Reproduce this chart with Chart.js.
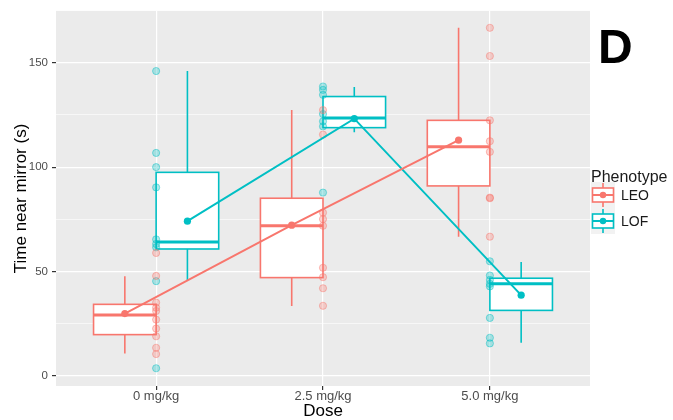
<!DOCTYPE html>
<html>
<head>
<meta charset="utf-8">
<script src="https://cdn.jsdelivr.net/npm/chart.js@4/dist/chart.umd.min.js"></script>
<style>
  html, body { margin: 0; padding: 0; background: #fff; }
  #wrap { width: 673px; height: 420px; position: relative; }
</style>
</head>
<body>
<div id="wrap"><canvas id="c" width="673" height="420"></canvas></div>
<script>
// Dose groups along the x axis
const doses = ['0 mg/kg', '2.5 mg/kg', '5.0 mg/kg'];
const phenotypes = ['LEO', 'LOF'];
const yTicks = [0, 50, 100, 150];

// Box summaries per dose: [lower whisker, Q1, median, Q3, upper whisker]
const leoBox = [
  [10.8, 19.8, 29.2, 34.3, 47.8],
  [33.5, 47.1, 71.9, 85.1, 127.3],
  [66.7, 91.0, 109.8, 122.4, 166.7]
];
const lofBox = [
  [46.0, 60.8, 64.1, 97.5, 146.0],
  [116.7, 118.9, 123.5, 133.8, 138.4],
  [15.9, 31.4, 44.1, 46.8, 54.6]
];

// Group means per dose
const leoMean = [29.9, 72.2, 112.9];
const lofMean = [74.1, 123.2, 38.7];

// Individual animals: time near mirror (s) per dose
const leoTimes = [
  [58.9, 47.9, 35.1, 32.7, 31.1, 27.0, 22.7, 19.0, 13.5, 10.5],
  [127.3, 115.6, 78.2, 75.1, 71.9, 51.8, 47.3, 42.0, 33.6],
  [166.7, 153.2, 122.4, 112.4, 107.3, 85.4, 85.1, 66.7]
];
const lofTimes = [
  [146.0, 106.8, 100.0, 90.3, 65.4, 63.2, 61.6, 45.4, 3.7],
  [138.6, 137.0, 134.6, 125.4, 121.9, 119.5, 87.8],
  [54.9, 48.1, 46.0, 44.1, 42.9, 27.8, 18.3, 15.6]
];

const LEO_COL = '#F8766D';
const LOF_COL = '#00BFC4';
const DODGE = 0.1875;   // half of the dodge width
const HALF_BOX = 0.1875; // half box width

const groups = [
  { name: phenotypes[0], color: LEO_COL, box: leoBox, mean: leoMean, times: leoTimes, off: -DODGE, fill: 'rgba(248,118,109,0.30)', ring: 'rgba(248,118,109,0.45)' },
  { name: phenotypes[1], color: LOF_COL, box: lofBox, mean: lofMean, times: lofTimes, off: DODGE, fill: 'rgba(0,191,196,0.30)', ring: 'rgba(0,191,196,0.45)' }
];

// Grey panel behind the plot area
const panelBg = {
  id: 'panelBg',
  beforeDraw(chart) {
    const { ctx, chartArea: a } = chart;
    ctx.save();
    ctx.fillStyle = '#EBEBEB';
    ctx.fillRect(a.left, a.top, a.right - a.left, a.bottom - a.top);
    ctx.restore();
  }
};

// Box-and-whisker marks, drawn through the chart scales
const boxes = {
  id: 'boxes',
  beforeDatasetsDraw(chart) {
    const { ctx, scales: { x, y } } = chart;
    const hw = x.getPixelForValue(HALF_BOX) - x.getPixelForValue(0);
    ctx.save();
    groups.forEach(g => {
      g.box.forEach((b, i) => {
        const cx = x.getPixelForValue(i + 1 + g.off);
        const [lo, q1, med, q3, hi] = b.map(v => y.getPixelForValue(v));
        ctx.strokeStyle = g.color;
        ctx.lineWidth = 1.6;
        ctx.beginPath();
        ctx.moveTo(cx, hi); ctx.lineTo(cx, q3);
        ctx.moveTo(cx, q1); ctx.lineTo(cx, lo);
        ctx.stroke();
        ctx.fillStyle = '#FFFFFF';
        ctx.fillRect(cx - hw, q3, hw * 2, q1 - q3);
        ctx.strokeRect(cx - hw, q3, hw * 2, q1 - q3);
        ctx.lineWidth = 3;
        ctx.beginPath();
        ctx.moveTo(cx - hw, med); ctx.lineTo(cx + hw, med);
        ctx.stroke();
      });
    });
    ctx.restore();
  }
};

// Panel label and legend on the right
const extras = {
  id: 'extras',
  afterDraw(chart) {
    const { ctx } = chart;
    ctx.save();
    ctx.fillStyle = '#000';
    ctx.font = 'bold 48px "Liberation Sans", Arial, sans-serif';
    ctx.textBaseline = 'alphabetic';
    ctx.textAlign = 'left';
    ctx.fillText('D', 598, 63);

    ctx.fillStyle = '#1A1A1A';
    ctx.font = '16px "Liberation Sans", Arial, sans-serif';
    ctx.fillText('Phenotype', 591, 182);

    groups.forEach((g, k) => {
      const cy = 195 + k * 26;
      const kx = 591, kw = 24;
      ctx.fillStyle = '#F2F2F2';
      ctx.fillRect(kx, cy - 13, kw, 26);
      const cx = kx + kw / 2;
      ctx.strokeStyle = g.color;
      ctx.lineWidth = 1.6;
      ctx.beginPath();
      ctx.moveTo(cx, cy - 12); ctx.lineTo(cx, cy - 7);
      ctx.moveTo(cx, cy + 7); ctx.lineTo(cx, cy + 12);
      ctx.stroke();
      ctx.fillStyle = '#FFFFFF';
      ctx.fillRect(kx + 1.5, cy - 7, kw - 3, 14);
      ctx.strokeRect(kx + 1.5, cy - 7, kw - 3, 14);
      ctx.lineWidth = 2;
      ctx.beginPath();
      ctx.moveTo(kx + 1.5, cy); ctx.lineTo(kx + kw - 1.5, cy);
      ctx.stroke();
      ctx.fillStyle = g.color;
      ctx.beginPath();
      ctx.arc(cx, cy, 3.2, 0, Math.PI * 2);
      ctx.fill();

      ctx.fillStyle = '#1A1A1A';
      ctx.font = '14px "Liberation Sans", Arial, sans-serif';
      ctx.textBaseline = 'middle';
      ctx.fillText(g.name, 621, cy + 1);
      ctx.textBaseline = 'alphabetic';
    });
    ctx.restore();
  }
};

const datasets = [];
// Mean lines (on top)
groups.forEach(g => {
  datasets.push({
    label: g.name + ' mean',
    data: g.mean.map((v, i) => ({ x: i + 1 + g.off, y: v })),
    showLine: true,
    borderColor: g.color,
    backgroundColor: g.color,
    borderWidth: 2,
    pointRadius: 3.6,
    pointBorderWidth: 0,
    pointBackgroundColor: g.color,
    order: 0
  });
});
// Individual points
groups.forEach(g => {
  datasets.push({
    label: g.name,
    data: g.times.flatMap((arr, i) => arr.map(v => ({ x: i + 1, y: v }))),
    showLine: false,
    pointRadius: 3.6,
    pointBorderWidth: 1,
    pointBackgroundColor: g.fill,
    pointBorderColor: g.ring,
    order: 1
  });
});

const FONT = '"Liberation Sans", Arial, sans-serif';

new Chart(document.getElementById('c'), {
  type: 'scatter',
  data: { datasets },
  plugins: [panelBg, boxes, extras],
  options: {
    responsive: false,
    animation: false,
    devicePixelRatio: 1,
    layout: { padding: { top: 9, right: 83, left: 0, bottom: 0 } },
    plugins: { legend: { display: false }, tooltip: { enabled: false } },
    scales: {
      x: {
        type: 'linear',
        min: 0.4,
        max: 3.6,
        afterBuildTicks: s => { s.ticks = doses.map((d, i) => ({ value: i + 1 })); },
        afterFit: s => { s.height = 34; },
        border: { display: false },
        grid: { color: '#FFFFFF', lineWidth: 1.2, tickColor: '#333333', tickLength: 4 },
        ticks: {
          callback: v => doses[v - 1],
          color: '#4D4D4D',
          font: { family: FONT, size: 13, lineHeight: 1 },
          padding: 0,
          maxRotation: 0,
          autoSkip: false
        },
        title: {
          display: true,
          text: 'Dose',
          color: '#000',
          font: { family: FONT, size: 17 },
          padding: { top: 0, bottom: -2 }
        }
      },
      y: {
        type: 'linear',
        min: -4.8,
        max: 174.8,
        afterBuildTicks: s => { s.ticks = [0, 25, 50, 75, 100, 125, 150].map(v => ({ value: v })); },
        afterFit: s => { s.width = 56; },
        border: { display: false },
        grid: {
          color: '#FFFFFF',
          lineWidth: c => (yTicks.includes(c.tick.value) ? 1.2 : 0.6),
          tickColor: c => (yTicks.includes(c.tick.value) ? '#333333' : 'rgba(0,0,0,0)'),
          tickLength: 4
        },
        ticks: {
          callback: v => (yTicks.includes(v) ? String(v) : ''),
          color: '#4D4D4D',
          font: { family: FONT, size: 11.5 },
          padding: 4,
          autoSkip: false
        },
        title: {
          display: true,
          text: 'Time near mirror (s)',
          color: '#000',
          font: { family: FONT, size: 17 },
          padding: { top: 11, bottom: 0 }
        }
      }
    }
  }
});
</script>
</body>
</html>
